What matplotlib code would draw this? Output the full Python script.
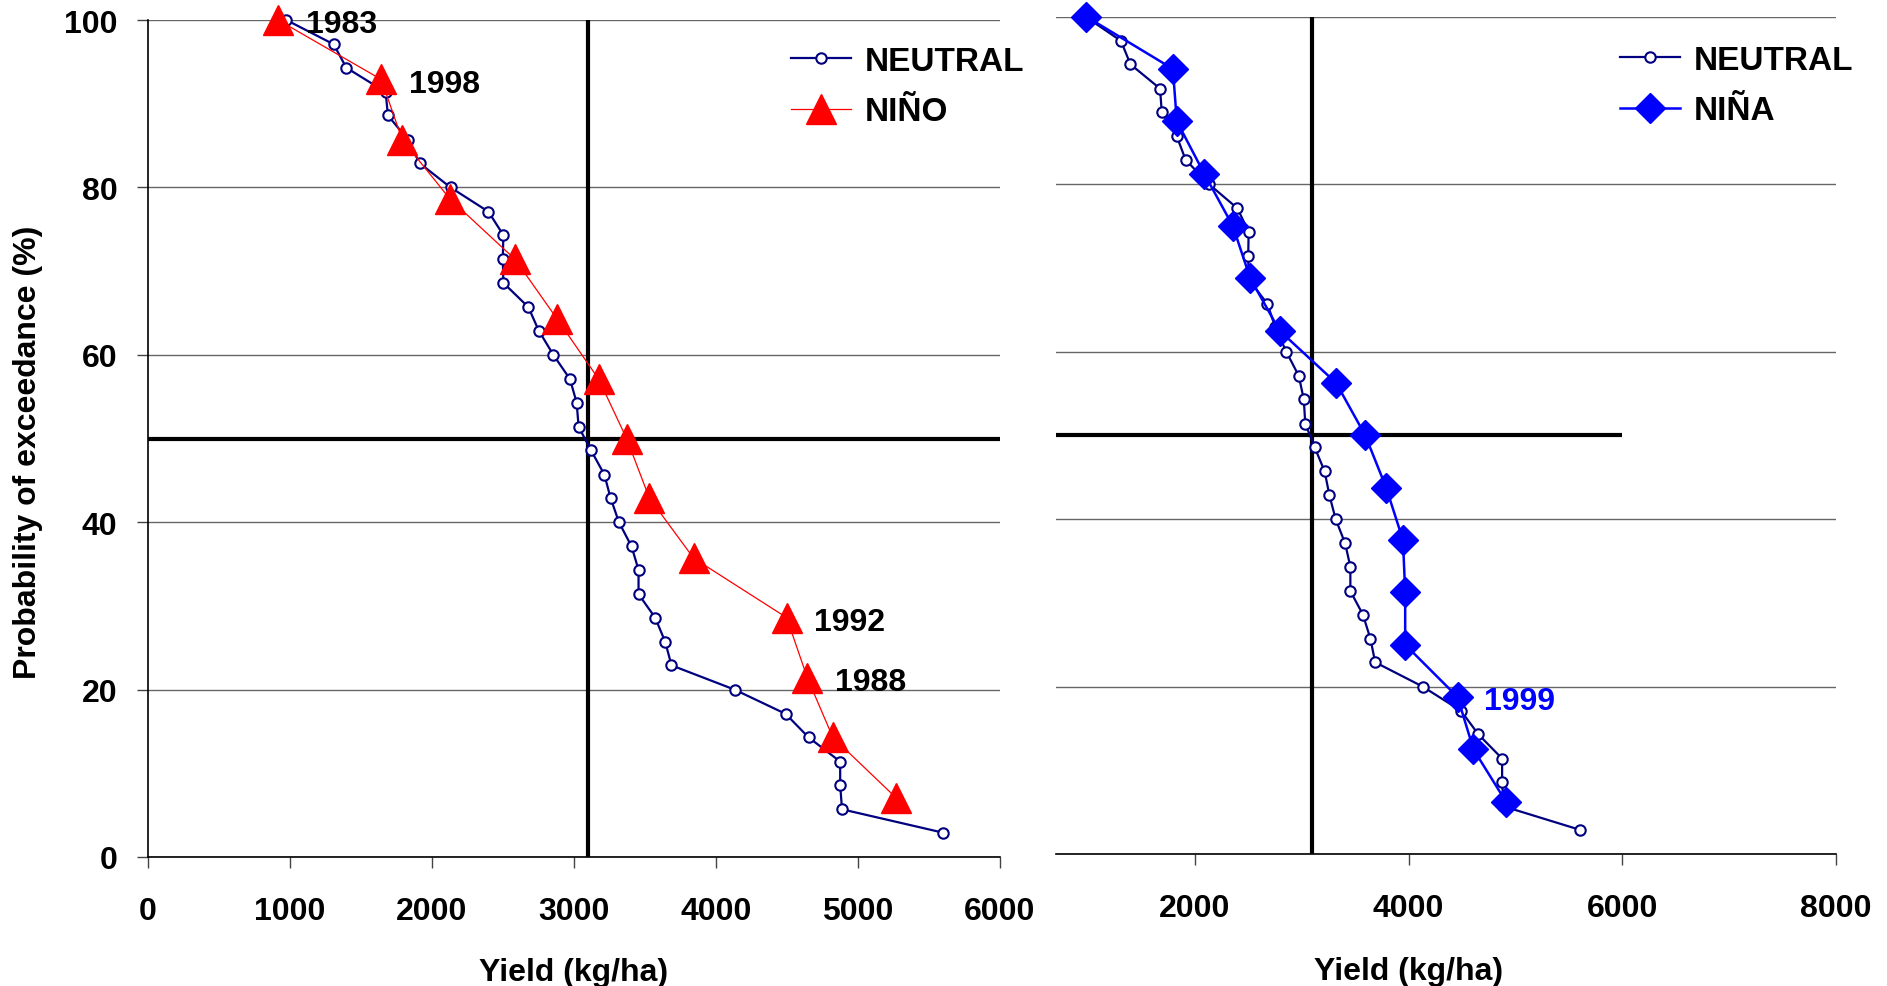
import matplotlib
matplotlib.use('Agg')
import matplotlib.pyplot as plt

plt.rcParams['font.family'] = ['Liberation Sans', 'DejaVu Sans']
plt.rcParams['font.weight'] = 'bold'

# 中性年产量分布（两幅图共用）
neutral_yield = [975, 1308, 1397, 1674, 1690, 1831, 1913, 2131, 2398, 2503, 2499, 2503,
                 2679, 2752, 2855, 2972, 3019, 3033, 3120, 3214, 3258, 3317, 3406, 3455,
                 3455, 3572, 3643, 3687, 4131, 4491, 4652, 4875, 4875, 4888, 5601]
neutral_prob = [100.0, 97.1, 94.3, 91.4, 88.6, 85.7, 82.9, 80.0, 77.1, 74.3, 71.4, 68.6,
                65.7, 62.9, 60.0, 57.1, 54.3, 51.4, 48.6, 45.7, 42.9, 40.0, 37.1, 34.3,
                31.4, 28.6, 25.7, 22.9, 20.0, 17.1, 14.3, 11.4, 8.6, 5.7, 2.9]

# 厄尔尼诺年
nino_yield = [917, 1643, 1791, 2128, 2586, 2881, 3174, 3371, 3531, 3843, 4498, 4644, 4823, 5267]
nino_prob = [100.0, 92.9, 85.7, 78.6, 71.4, 64.3, 57.1, 50.0, 42.9, 35.7, 28.6, 21.4, 14.3, 7.1]
nino_years = {0: '1983', 1: '1998', 10: '1992', 11: '1988'}  # 点序号 -> 年份标注

# 拉尼娜年
nina_yield = [983, 1794, 1831, 2087, 2355, 2518, 2792, 3322, 3594, 3790, 3947, 3968,
              3968, 4458, 4607, 4911]
nina_prob = [100.0, 93.75, 87.5, 81.25, 75.0, 68.75, 62.5, 56.25, 50.0, 43.75, 37.5,
             31.25, 25.0, 18.75, 12.5, 6.25]
nina_years = {13: '1999'}

median_yield = 3100   # 中位产量参考线
median_prob = 50

left_xticks = [0, 1000, 2000, 3000, 4000, 5000, 6000]
right_xticks = [2000, 4000, 6000, 8000]
yticks = [0, 20, 40, 60, 80, 100]

NAVY = '#000080'
FS = 23

fig = plt.figure(figsize=(18.87, 9.87), dpi=100)
ax1 = fig.add_axes([0.0784, 0.1307, 0.4515, 0.848])
ax2 = fig.add_axes([0.5596, 0.1337, 0.4134, 0.8485])


def neutral_line(ax):
    return ax.plot(neutral_yield, neutral_prob, color=NAVY, lw=1.6, marker='o',
                   ms=7.5, mfc='white', mec=NAVY, mew=1.5, zorder=4, clip_on=False,
                   label='NEUTRAL')[0]


def base_style(ax):
    ax.set_ylim(0, 100)
    ax.set_yticks(yticks)
    ax.yaxis.grid(True, color='#666666', lw=1)
    ax.set_axisbelow(True)
    for s in ['top', 'right']:
        ax.spines[s].set_visible(False)
    ax.spines['bottom'].set_color('black')
    ax.spines['bottom'].set_linewidth(1.2)
    ax.tick_params(axis='x', direction='out', length=8, width=1, color='#444444',
                   labelsize=FS, pad=20)


# ---------------- 左图：中性 vs 厄尔尼诺 ----------------
base_style(ax1)
ax1.set_xlim(0, 6000)
ax1.set_xticks(left_xticks)
ax1.tick_params(axis='y', direction='out', length=8, width=1, color='#444444',
                labelsize=FS, pad=14)
ax1.spines['left'].set_color('black')
ax1.spines['left'].set_linewidth(1.2)

ax1.vlines(median_yield, 0, 100, color='black', lw=3, zorder=2)
ax1.hlines(median_prob, 0, 6000, color='black', lw=3, zorder=2)

h1 = neutral_line(ax1)
h2 = ax1.plot(nino_yield, nino_prob, color='red', lw=0.9, marker='^', ms=21,
              mfc='red', mec='red', zorder=5, clip_on=False, label='NIÑO')[0]
for i, yr in nino_years.items():
    ax1.annotate(yr, (nino_yield[i], nino_prob[i]), xytext=(20, -3),
                 textcoords='offset points', va='center', ha='left',
                 fontsize=FS, fontweight='bold', color='black', zorder=6)

ax1.legend(handles=[h1, h2], loc='upper left', bbox_to_anchor=(0.755, 0.969),
           frameon=False, fontsize=24, handlelength=1.8, handletextpad=0.4,
           labelspacing=0.58, borderpad=0, borderaxespad=0)

ax1.set_xlabel('Yield (kg/ha)', fontsize=FS, fontweight='bold')
ax1.xaxis.set_label_coords(0.5, -0.119)
ax1.set_ylabel('Probability of exceedance (%)', fontsize=FS, fontweight='bold')
ax1.yaxis.set_label_coords(-0.123, 0.485)

# ---------------- 右图：中性 vs 拉尼娜 ----------------
base_style(ax2)
ax2.set_xlim(700, 8000)
ax2.set_xticks(right_xticks)
ax2.spines['left'].set_visible(False)
ax2.tick_params(axis='y', left=False, labelleft=False)

ax2.vlines(median_yield, 0, 100, color='black', lw=3, zorder=2)
ax2.hlines(median_prob, 700, 6000, color='black', lw=3, zorder=2)

g1 = neutral_line(ax2)
g2 = ax2.plot(nina_yield, nina_prob, color='#0000FF', lw=1.8, marker='D', ms=15,
              mfc='#0000FF', mec='#0000FF', zorder=5, clip_on=False, label='NIÑA')[0]
for i, yr in nina_years.items():
    ax2.annotate(yr, (nina_yield[i], nina_prob[i]), xytext=(19, -3),
                 textcoords='offset points', va='center', ha='left',
                 fontsize=FS, fontweight='bold', color='#0000FF', zorder=6)

ax2.legend(handles=[g1, g2], loc='upper left', bbox_to_anchor=(0.723, 0.966),
           frameon=False, fontsize=24, handlelength=1.8, handletextpad=0.4,
           labelspacing=0.58, borderpad=0, borderaxespad=0)

ax2.set_xlabel('Yield (kg/ha)', fontsize=FS, fontweight='bold')
ax2.xaxis.set_label_coords(0.452, -0.122)

fig.savefig('out.png', dpi=100)
